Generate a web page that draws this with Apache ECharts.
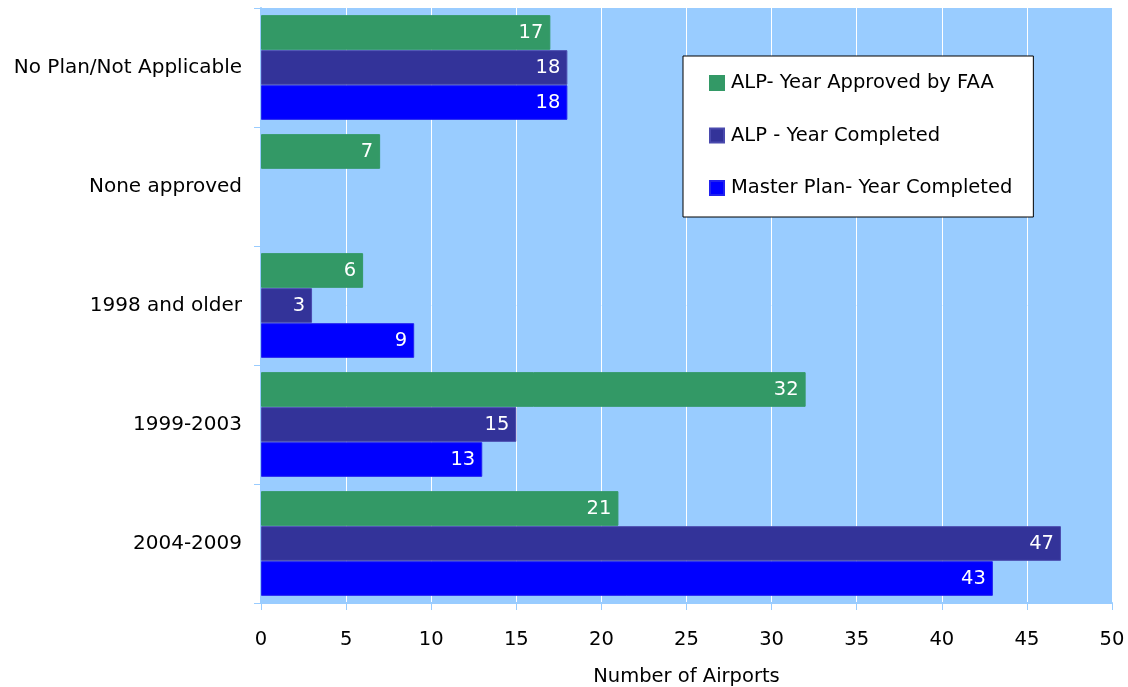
<!DOCTYPE html>
<html>
<head>
<meta charset="utf-8">
<script src="https://cdn.jsdelivr.net/npm/echarts@6/dist/echarts.min.js"></script>
<style>
  html, body { margin: 0; padding: 0; background: #ffffff; }
  #chart { width: 1128px; height: 687px; }
</style>
</head>
<body>
<div id="chart"></div>
<script>
// Airport planning status, listed top to bottom
const categories = ['No Plan/Not Applicable', 'None approved', '1998 and older', '1999-2003', '2004-2009'];
const alpApproved = [17, 7, 6, 32, 21];
const alpCompleted = [18, null, 3, 15, 47];
const masterPlanCompleted = [18, null, 9, 13, 43];
const seriesNames = ['ALP- Year Approved by FAA', 'ALP - Year Completed', 'Master Plan- Year Completed'];
const xTicks = [0, 5, 10, 15, 20, 25, 30, 35, 40, 45, 50];

const FONT = '"DejaVu Sans", "Liberation Sans", sans-serif';
const FS = 19.5;
const colors = ['#339966', '#333399', '#0000ff'];
const borders = ['#339966', '#4a4aae', '#2222ee'];

const chart = echarts.init(document.getElementById('chart'), null, { renderer: 'canvas' });

function barSeries(name, data, i) {
  return {
    name: name,
    type: 'bar',
    data: data,
    barGap: '1%',
    barCategoryGap: '12%',
    itemStyle: { color: colors[i], borderColor: borders[i], borderWidth: 1 },
    label: {
      show: true,
      position: 'insideRight',
      color: '#ffffff',
      fontFamily: FONT,
      fontSize: FS,
      distance: 7
    }
  };
}

chart.setOption({
  animation: false,
  textStyle: { fontFamily: FONT },
  grid: {
    left: 261, right: 16, top: 8, bottom: 84,
    outerBoundsMode: 'none',
    backgroundColor: '#99ccff', show: true, borderWidth: 0
  },
  legend: {
    orient: 'vertical',
    left: 683,
    top: 56,
    data: seriesNames,
    icon: 'rect',
    itemWidth: 14,
    itemHeight: 14,
    itemGap: 30.5,
    backgroundColor: '#ffffff',
    borderColor: '#000000',
    borderWidth: 1,
    padding: [16, 21, 18, 26],
    textStyle: { fontFamily: FONT, fontSize: FS, lineHeight: 22, color: '#000000', padding: [0, 0, 0, 2] }
  },
  xAxis: {
    type: 'value',
    min: xTicks[0],
    max: xTicks[xTicks.length - 1],
    interval: 5,
    name: 'Number of Airports',
    nameLocation: 'middle',
    nameGap: 64,
    nameTextStyle: { fontFamily: FONT, fontSize: FS, color: '#000000' },
    axisLine: { show: true, lineStyle: { color: '#99ccff', width: 2 } },
    axisTick: { show: true, length: 7, lineStyle: { color: '#99ccff' } },
    axisLabel: { fontFamily: FONT, fontSize: FS, color: '#000000', margin: 27 },
    splitLine: { show: true, lineStyle: { color: '#ffffff', width: 1 } }
  },
  yAxis: {
    type: 'category',
    data: categories,
    inverse: true,
    axisLine: { show: true, lineStyle: { color: '#99ccff', width: 2 } },
    axisTick: { show: true, length: 7, lineStyle: { color: '#99ccff' } },
    axisLabel: { fontFamily: FONT, fontSize: 20, color: '#000000', margin: 19 },
    splitLine: { show: false }
  },
  series: [
    barSeries(seriesNames[0], alpApproved, 0),
    barSeries(seriesNames[1], alpCompleted, 1),
    barSeries(seriesNames[2], masterPlanCompleted, 2)
  ]
});
</script>
</body>
</html>
